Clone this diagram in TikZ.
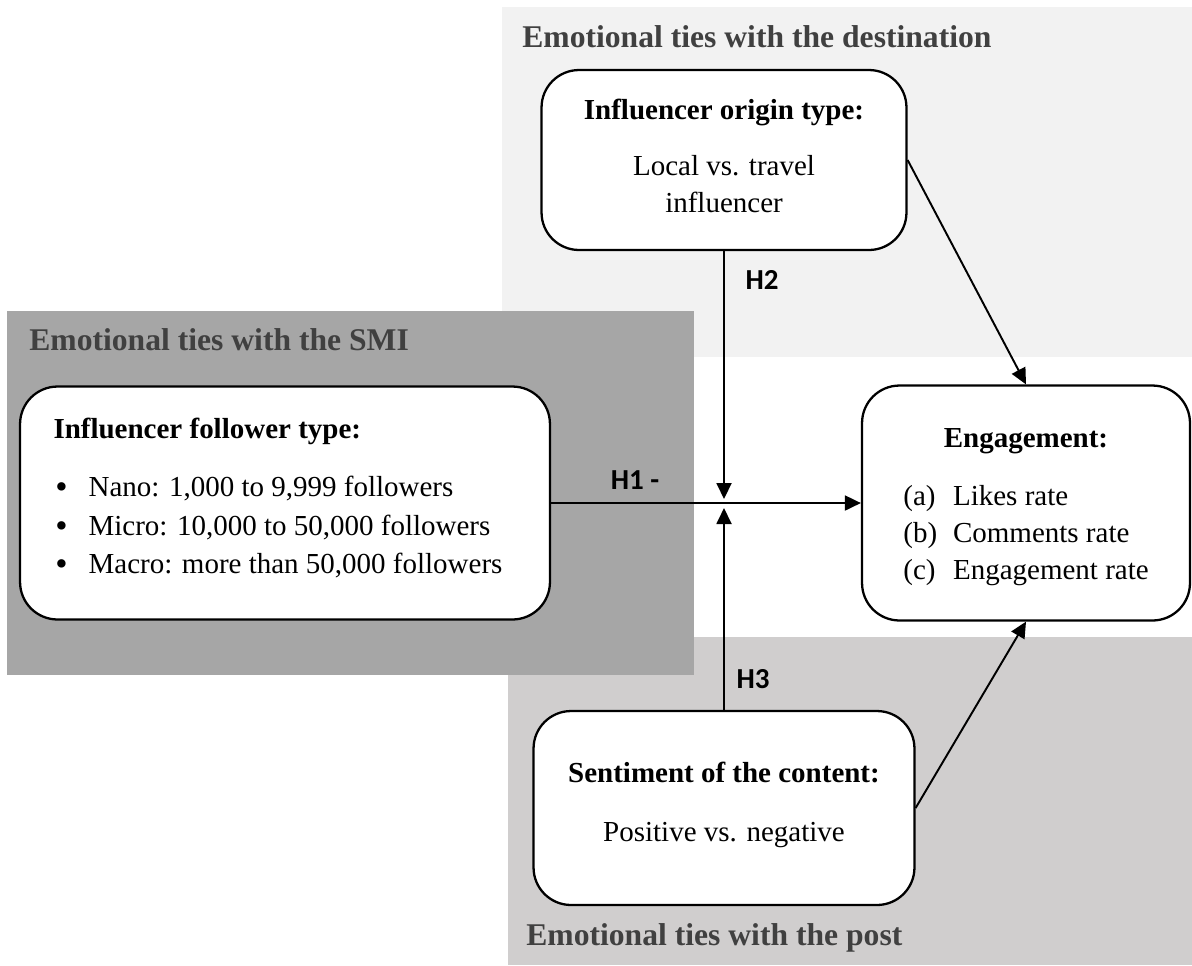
\documentclass[tikz,border=0pt]{standalone}
\usepackage{fontspec}
\setmainfont{Liberation Serif}
\newfontfamily\hypfont{Carlito}
\usetikzlibrary{arrows.meta}

\definecolor{destgray}{HTML}{F2F2F2}
\definecolor{smigray}{HTML}{A6A6A6}
\definecolor{postgray}{HTML}{D0CECE}
\definecolor{headgray}{HTML}{404040}
\newcommand{\folitem}[1]{\hspace*{1pt}\makebox[1.15em][l]{\raisebox{-0.15ex}[0pt][0pt]{\fontsize{20}{20}\selectfont\textbullet}}#1}

\begin{document}
\begin{tikzpicture}[
     x=0.02cm, y=-0.02cm,
     var/.style={draw, line width=1.3pt, fill=white, rounded corners=0.75cm,
       font=\fontsize{16.5}{21}\selectfont},
     head/.style={anchor=west, inner sep=0pt, text=headgray,
       font=\fontsize{18}{22}\selectfont\bfseries},
     hyp/.style={inner sep=0pt, font=\hypfont\fontsize{16.5}{18}\selectfont\bfseries},
     link/.style={line width=1.1pt, -{Triangle[length=0.32cm,width=0.3cm]}}
   ]
   \path[use as bounding box] (0,0) rectangle (1192,965);
   % Areas.
   \fill[destgray] (502,7) rectangle (1192,357);
   \fill[postgray] (508,637) rectangle (1192,965);
   \fill[smigray] (7,311) rectangle (694,675);
   \node[head] (desthead) at (522,37) {Emotional ties with the destination};
   \node[head] (smihead) at (29,340) {Emotional ties with the SMI};
   \node[head] (posthead) at (526,938) {Emotional ties with the post};
   % Variables.
   \node[var, minimum width=7.3cm, minimum height=3.6cm, align=center] (orig) at (724,160)
     {\textbf{Influencer origin type:}\\[11pt] Local vs. travel\\ influencer\rule[-4.6pt]{0pt}{0pt}};
   \node[var, minimum width=10.6cm, minimum height=4.66cm, align=left] (fol) at (285,503)
     {\textbf{Influencer follower type:}\\[12pt]
      \folitem{Nano: 1,000 to 9,999 followers}\\[1pt]
      \folitem{Micro: 10,000 to 50,000 followers}\\[1pt]
      \folitem{Macro: more than 50,000 followers}\hspace*{8pt}\rule[-8pt]{0pt}{0pt}};
   \node[var, minimum width=6.56cm, minimum height=4.7cm, align=center] (eng) at (1026,503)
     {\rule{0pt}{18pt}\textbf{Engagement:}\\[12pt]
      \begin{tabular}[t]{@{}l@{\hspace{0.55em}}l@{}}
        (a) & Likes rate\\
        (b) & Comments rate\\
        (c) & Engagement rate
      \end{tabular}};
   \node[var, minimum width=7.62cm, minimum height=3.88cm, align=center] (sent) at (724,808)
     {\textbf{Sentiment of the content:}\\[13pt] Positive vs. negative\rule[-7pt]{0pt}{0pt}};
   % Hypotheses.
   \coordinate (h2tip) at (724,499);
   \coordinate (h3tip) at (724,508);
   \draw[link] (fol.east) -- (eng.west);
   \draw[link] (orig.south) -- (h2tip);
   \draw[link] (sent.north) -- (h3tip);
   \draw[link] (orig.east) -- (eng.north);
   \draw[link] (sent.east) -- (eng.south);
   \node[hyp] (h1) at (635,480) {H1 -};
   \node[hyp] (h2) at (762,280) {H2};
   \node[hyp] (h3) at (753,679) {H3};
 \end{tikzpicture}
\end{document}
